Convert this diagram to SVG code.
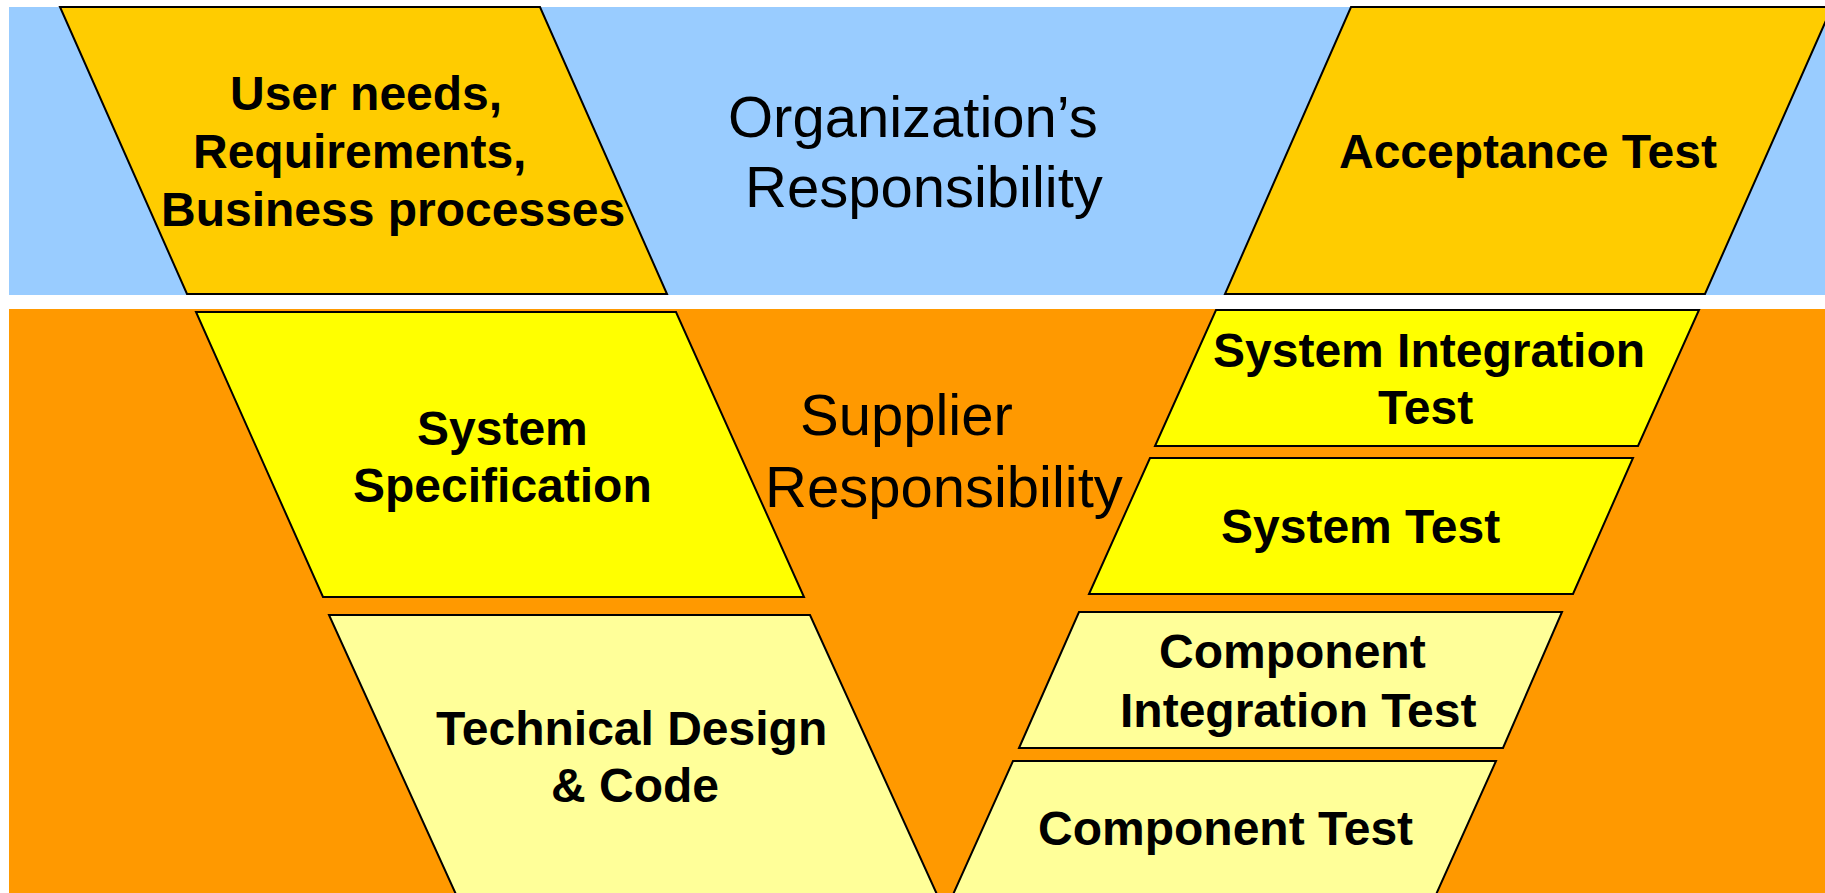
<svg xmlns="http://www.w3.org/2000/svg" width="1825" height="893" viewBox="0 0 1825 893">
<style>
.shape{stroke:#000;stroke-width:2;stroke-linejoin:miter}
.gold{fill:#FFCC00}
.yel{fill:#FFFF00}
.lt{fill:#FFFF99}
.b{font-family:"Liberation Sans",Arial,sans-serif;font-weight:bold;font-size:48px;fill:#000}
.n{font-family:"Liberation Sans",Arial,sans-serif;font-size:58px;fill:#000}
</style>
<rect x="0" y="0" width="1825" height="893" fill="#FFFFFF"/>
<g id="bands">
<rect x="9" y="7" width="1816" height="288" fill="#99CCFF"/>
<rect x="9" y="309" width="1816" height="584" fill="#FF9900"/>
</g>
<g id="connectors"></g>
<g id="user-needs">
<polygon class="shape gold" points="60,7 540,7 667,294 187,294"/>
<text class="b" x="230" y="110">User needs,</text>
<text class="b" x="193" y="168">Requirements,</text>
<text class="b" x="161" y="226">Business processes</text>
</g>
<g id="org-label">
<text class="n" x="728" y="137">Organization’s</text>
<text class="n" x="745" y="207">Responsibility</text>
</g>
<g id="acceptance-test">
<polygon class="shape gold" points="1351,7 1832,7 1705,294 1225,294"/>
<text class="b" x="1339" y="168">Acceptance Test</text>
</g>
<g id="system-specification">
<polygon class="shape yel" points="196,312 676,312 804,597 323,597"/>
<text class="b" x="417" y="445">System</text>
<text class="b" x="353" y="502">Specification</text>
</g>
<g id="supplier-label">
<text class="n" x="800" y="435">Supplier</text>
<text class="n" x="765" y="507">Responsibility</text>
</g>
<g id="system-integration-test">
<polygon class="shape yel" points="1216,310 1699,310 1638,446 1155,446"/>
<text class="b" x="1213" y="367">System Integration</text>
<text class="b" x="1378" y="424">Test</text>
</g>
<g id="system-test">
<polygon class="shape yel" points="1150,458 1633,458 1573,594 1089,594"/>
<text class="b" x="1221" y="543">System Test</text>
</g>
<g id="technical-design">
<polygon class="shape lt" points="329,615 810,615 940,901 459,901"/>
<text class="b" x="436" y="745">Technical Design</text>
<text class="b" x="551" y="802">&amp; Code</text>
</g>
<g id="component-integration-test">
<polygon class="shape lt" points="1079,612 1562,612 1503,748 1019,748"/>
<text class="b" x="1159" y="668">Component</text>
<text class="b" x="1120" y="727">Integration Test</text>
</g>
<g id="component-test">
<polygon class="shape lt" points="1013,761 1496,761 1434,899 951,899"/>
<text class="b" x="1038" y="845">Component Test</text>
</g>
</svg>
